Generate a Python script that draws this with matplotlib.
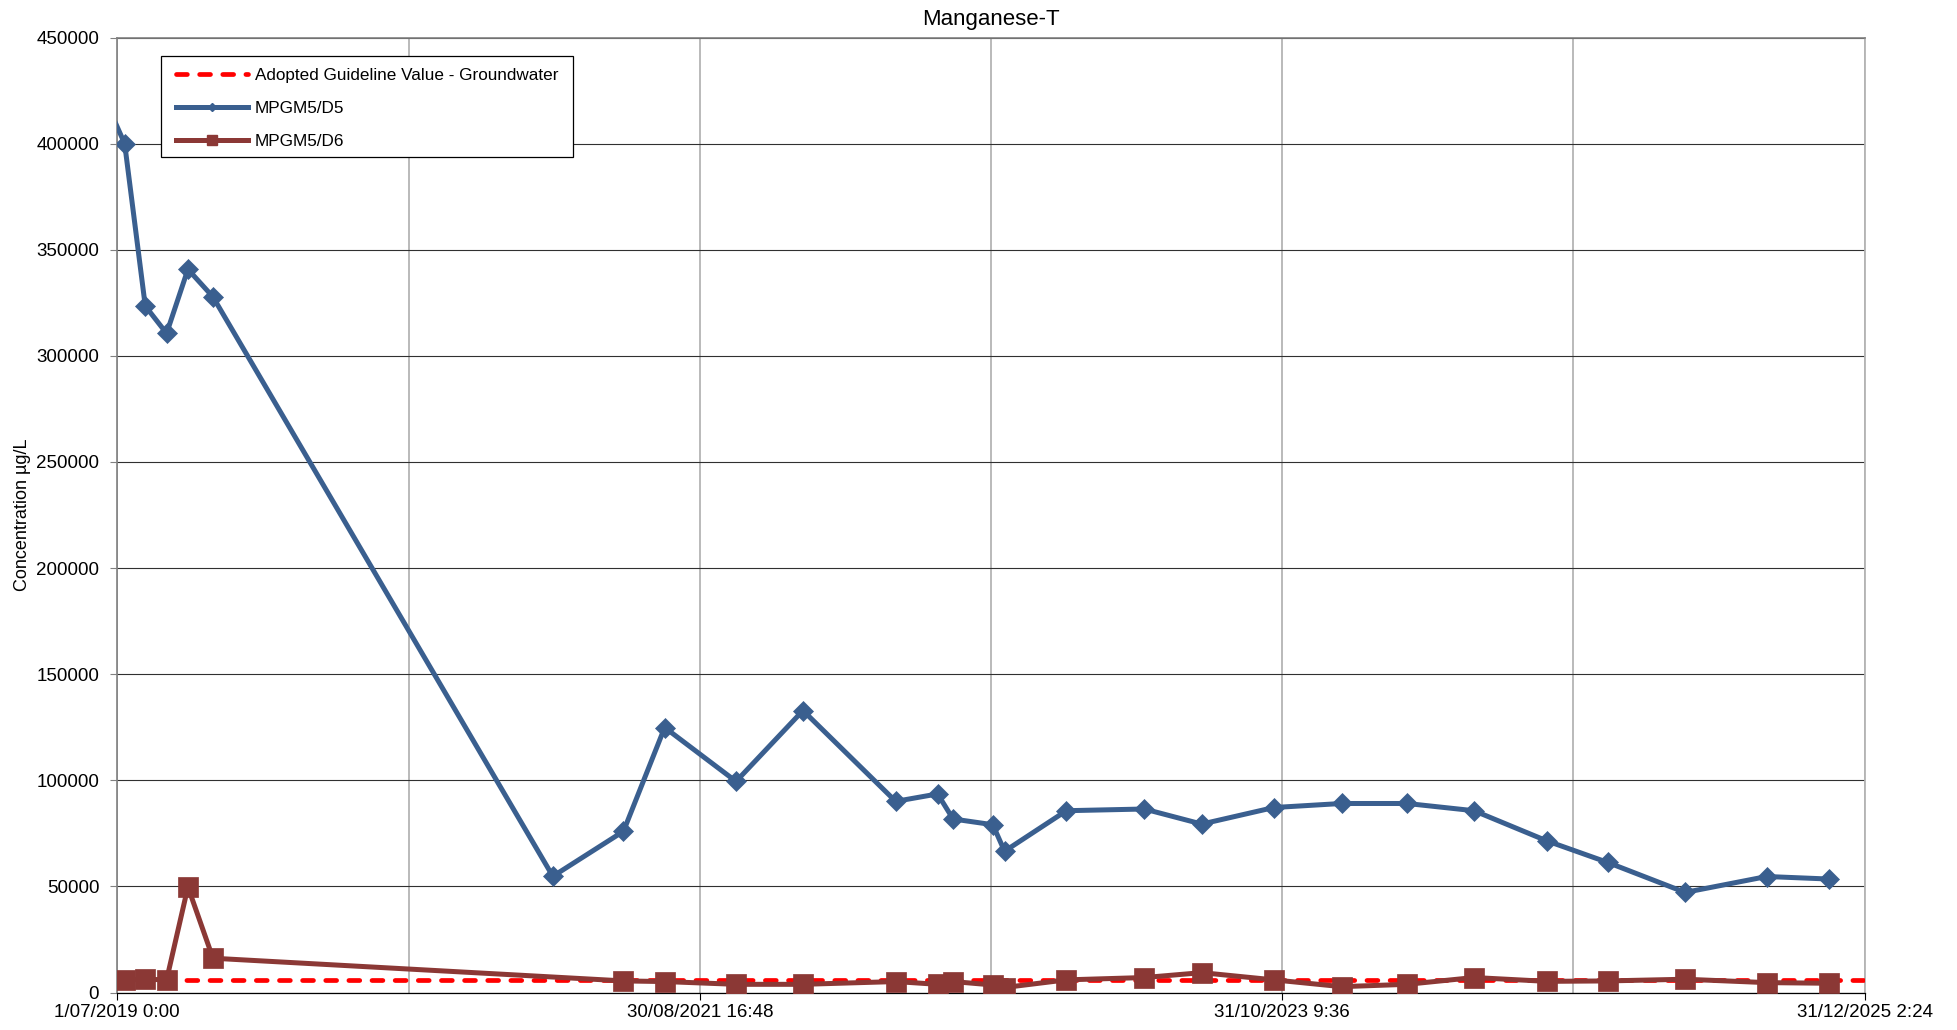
import datetime as dt
import matplotlib
matplotlib.use("Agg")
import matplotlib.pyplot as plt
import matplotlib.dates as mdates
from matplotlib.lines import Line2D
from matplotlib.patches import Rectangle
from matplotlib.ticker import FixedLocator, FuncFormatter

plt.rcParams['font.family'] = ['Liberation Sans', 'DejaVu Sans']

title = "Manganese-T"
ylabel = "Concentration µg/L"
series_names = ["Adopted Guideline Value - Groundwater", "MPGM5/D5", "MPGM5/D6"]

guideline_value = 5800

d5_dates = ["2019-06-21", "2019-07-11", "2019-08-08", "2019-09-06", "2019-10-05", "2019-11-08",
            "2021-02-12", "2021-05-19", "2021-07-14", "2021-10-19", "2022-01-18", "2022-05-24",
            "2022-07-20", "2022-08-10", "2022-10-03", "2022-10-19", "2023-01-11", "2023-04-27",
            "2023-07-14", "2023-10-20", "2024-01-20", "2024-04-18", "2024-07-18", "2024-10-25",
            "2025-01-16", "2025-05-01", "2025-08-20", "2025-11-13"]
d5_values = [415600, 400000, 323500, 310600, 340800, 327800,
             54800, 76000, 124900, 99500, 132900, 90100,
             93600, 81800, 79100, 66600, 85700, 86500,
             79400, 87200, 89100, 89100, 85700, 71500,
             61300, 47200, 54700, 53500]

d6_dates = ["2019-07-11", "2019-08-08", "2019-09-06", "2019-10-05", "2019-11-08",
            "2021-05-19", "2021-07-14", "2021-10-19", "2022-01-18", "2022-05-24",
            "2022-07-20", "2022-08-10", "2022-10-03", "2022-10-19", "2023-01-11", "2023-04-27",
            "2023-07-14", "2023-10-20", "2024-01-20", "2024-04-18", "2024-07-18", "2024-10-25",
            "2025-01-16", "2025-05-01", "2025-08-20", "2025-11-13"]
d6_values = [6000, 6300, 6000, 49800, 16200,
             5500, 5200, 3900, 3900, 5200,
             3900, 5200, 3600, 2400, 6000, 7100,
             9400, 6000, 2800, 3900, 7100, 5300,
             5500, 6300, 4700, 4400]

x_start = dt.datetime(2019, 7, 1, 0, 0)
x_end = dt.datetime(2025, 12, 31, 2, 24)
y_ticks = [0, 50000, 100000, 150000, 200000, 250000, 300000, 350000, 400000, 450000]

c_d5 = "#3A5F8F"
c_d6 = "#8B3835"
c_gl = "#FF0000"

fig = plt.figure(figsize=(19.57, 10.30), dpi=100)
ax = fig.add_axes([117.3 / 1957, (1030 - 992.6) / 1030, 1747.4 / 1957, 955.1 / 1030])

to_dt = lambda s: dt.datetime.strptime(s, "%Y-%m-%d")
x5 = [to_dt(s) for s in d5_dates]
x6 = [to_dt(s) for s in d6_dates]
xs = mdates.date2num(x_start)
xe = mdates.date2num(x_end)

# markers only for points inside the axis range
mark5 = [i for i, d in enumerate(x5) if d >= x_start]

ax.plot([x_start, x_end], [guideline_value, guideline_value], color=c_gl, lw=3.4,
        linestyle=(0, (2.3, 2.6)), dash_capstyle='round', zorder=3)
ax.plot(x6, d6_values, color=c_d6, lw=3.6, marker='s', ms=14.5, mew=0.5,
        mec=c_d6, mfc=c_d6, zorder=4)
ax.plot(x5, d5_values, color=c_d5, lw=3.6, marker='D', ms=10.5, mew=0.5,
        mec=c_d5, mfc=c_d5, markevery=mark5, zorder=5)

step = (xe - xs) / 6.0
ax.set_xlim(xs, xe)
ax.set_ylim(0, 450000)

major = [xs + k * step for k in (0, 2, 4, 6)]
minor = [xs + k * step for k in (1, 3, 5)]
ax.xaxis.set_major_locator(FixedLocator(major))
ax.xaxis.set_minor_locator(FixedLocator(minor))

def fmt_date(v, pos=None):
    d = mdates.num2date(v).replace(tzinfo=None)
    d = d + dt.timedelta(seconds=30)
    return f"{d.day}/{d.month:02d}/{d.year} {d.hour}:{d.minute:02d}"

ax.xaxis.set_major_formatter(FuncFormatter(fmt_date))
ax.yaxis.set_major_locator(FixedLocator(y_ticks))
ax.yaxis.set_major_formatter(FuncFormatter(lambda v, p: f"{int(v)}"))

ax.grid(True, axis='x', which='both', color='#b4b4b4', lw=1.3, zorder=1)
ax.grid(True, axis='y', which='major', color='#303030', lw=0.8, zorder=1)
ax.set_axisbelow(True)

ax.tick_params(axis='x', which='major', length=5, width=0.8, direction='out',
               labelsize=13.5, pad=3, color='black')
ax.tick_params(axis='x', which='minor', length=0)
ax.tick_params(axis='y', which='major', length=5, width=0.8, direction='out',
               labelsize=13.5, pad=8, color='#808080')

ax.spines['top'].set_color('#808080')
ax.spines['top'].set_linewidth(1.2)
ax.spines['right'].set_color('#b4b4b4')
ax.spines['right'].set_linewidth(1.3)
ax.spines['left'].set_color('#808080')
ax.spines['left'].set_linewidth(1.2)
ax.spines['bottom'].set_color('black')
ax.spines['bottom'].set_linewidth(0.9)

ax.set_title(title, fontsize=16, pad=9)
ax.set_ylabel(ylabel, fontsize=13, labelpad=3.5)

# legend box
rx0 = (161 - 117.3) / 1747.4
rx1 = (573 - 117.3) / 1747.4
ry1 = (992.6 - 56) / 955.1
ry0 = (992.6 - 157) / 955.1
ax.add_patch(Rectangle((rx0, ry0), rx1 - rx0, ry1 - ry0, transform=ax.transAxes,
                       facecolor='white', edgecolor='black', lw=0.9, zorder=10,
                       clip_on=False))
handles = [
    Line2D([], [], color=c_gl, lw=3.4, linestyle=(0, (2.3, 2.6)), dash_capstyle='round'),
    Line2D([], [], color=c_d5, lw=3.6, marker='D', ms=4.5, mfc=c_d5, mec=c_d5),
    Line2D([], [], color=c_d6, lw=3.6, marker='s', ms=7, mfc=c_d6, mec=c_d6),
]
leg = ax.legend(handles, series_names, loc='upper left',
                bbox_to_anchor=((176 - 117.3) / 1747.4, (992.6 - 68) / 955.1),
                frameon=False, borderpad=0, borderaxespad=0, fontsize=12.3,
                handlelength=4.2, handletextpad=0.4, labelspacing=1.05)
leg.set_zorder(11)

fig.savefig("out.png", dpi=100)
